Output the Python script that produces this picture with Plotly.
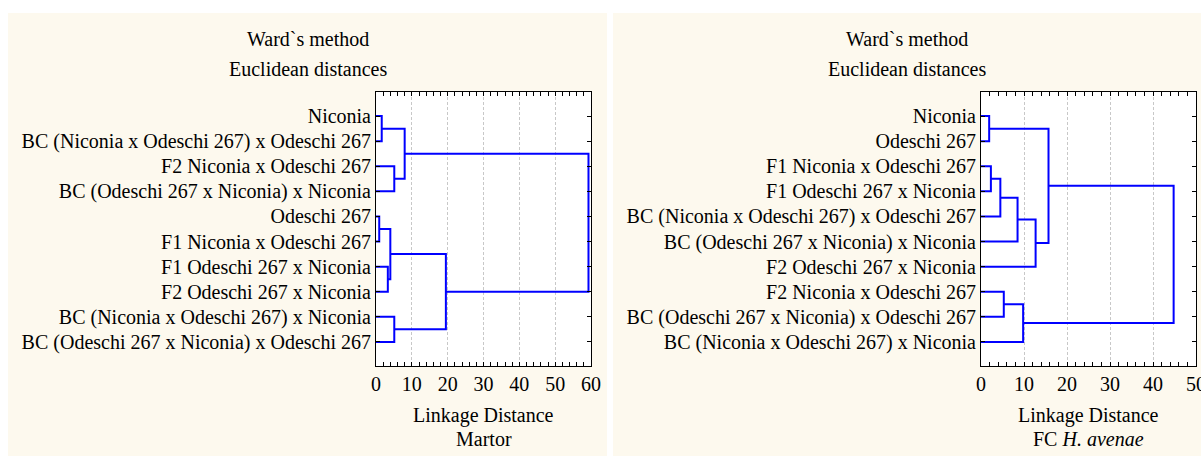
import plotly.graph_objects as go

# ---------------- data ----------------
leaves_martor = [
    "Niconia",
    "BC (Niconia x Odeschi 267) x Odeschi 267",
    "F2 Niconia x Odeschi 267",
    "BC (Odeschi 267 x Niconia) x Niconia",
    "Odeschi 267",
    "F1 Niconia x Odeschi 267",
    "F1 Odeschi 267 x Niconia",
    "F2 Odeschi 267 x Niconia",
    "BC (Niconia x Odeschi 267) x Niconia",
    "BC (Odeschi 267 x Niconia) x Odeschi 267",
]
# merges: node ids (0-9 leaves, 10+ new clusters in order)
merges_martor = [(0, 1), (2, 3), (10, 11), (4, 5), (6, 7), (13, 14), (8, 9), (15, 16), (12, 17)]
heights_martor = [1.6, 5.1, 8.0, 0.9, 3.3, 4.0, 5.1, 19.5, 59.3]

leaves_fc = [
    "Niconia",
    "Odeschi 267",
    "F1 Niconia x Odeschi 267",
    "F1 Odeschi 267 x Niconia",
    "BC (Niconia x Odeschi 267) x Odeschi 267",
    "BC (Odeschi 267 x Niconia) x Niconia",
    "F2 Odeschi 267 x Niconia",
    "F2 Niconia x Odeschi 267",
    "BC (Odeschi 267 x Niconia) x Odeschi 267",
    "BC (Niconia x Odeschi 267) x Niconia",
]
merges_fc = [(0, 1), (2, 3), (11, 4), (12, 5), (13, 6), (10, 14), (7, 8), (16, 9), (15, 17)]
heights_fc = [1.9, 2.3, 4.5, 8.5, 12.7, 15.7, 5.3, 9.8, 44.8]

x_range_martor = [0, 60]
x_range_fc = [0, 50]
x_ticks_martor = [0, 10, 20, 30, 40, 50, 60]
x_ticks_fc = [0, 10, 20, 30, 40, 50]

title_lines = ["Ward`s method", "Euclidean distances"]
xtitle = "Linkage Distance"
subtitle_martor = "Martor"
subtitle_fc = "FC <i>H. avenae</i>"

# ---------------- helpers ----------------
W, H = 1201, 456
FONT = "Liberation Serif"
BLUE = "#0000FF"
PANEL = "#FDF9EE"


def dendro_xy(n, merges, heights):
    pos = {i: (0.0, float(i + 1)) for i in range(n)}
    xs, ys = [], []
    for k, ((a, b), h) in enumerate(zip(merges, heights)):
        xa, ya = pos[a]
        xb, yb = pos[b]
        xs += [xa, h, h, xb, None]
        ys += [ya, ya, yb, yb, None]
        pos[n + k] = (h, (ya + yb) / 2)
    return xs, ys


def px_x(v):
    return v / W


def px_y(v):
    return 1 - v / H


fig = go.Figure()

xm, ym = dendro_xy(len(leaves_martor), merges_martor, heights_martor)
xf, yf = dendro_xy(len(leaves_fc), merges_fc, heights_fc)

fig.add_trace(go.Scatter(x=xm, y=ym, mode="lines", line=dict(color=BLUE, width=2),
                         hoverinfo="skip", showlegend=False, xaxis="x", yaxis="y"))
fig.add_trace(go.Scatter(x=xf, y=yf, mode="lines", line=dict(color=BLUE, width=2),
                         hoverinfo="skip", showlegend=False, xaxis="x2", yaxis="y2"))

# plot areas in pixels
L1, R1 = 376, 591
L2, R2 = 981, 1196
TOP, BOT = 92, 366

tickfont = dict(family=FONT, size=20, color="black")


def xaxis_cfg(dom, rng, tickvals, anchor):
    return dict(
        domain=[px_x(dom[0]), px_x(dom[1])], range=rng, anchor=anchor, automargin=False,
        tickvals=tickvals, ticks="inside", ticklen=4, tickcolor="black",
        showline=True, linecolor="black", linewidth=1, mirror="ticks",
        showgrid=True, gridcolor="#c8c8c8", griddash="3px,2px", gridwidth=1,
        zeroline=False, tickfont=tickfont, ticklabeloverflow="allow",
        minor=dict(dtick=2, ticks="inside", ticklen=4, tickcolor="black", showgrid=False),
    )


def yaxis_cfg(leaves, anchor):
    n = len(leaves)
    return dict(
        domain=[px_y(BOT), px_y(TOP)], range=[n + 0.96, 0.04], anchor=anchor, automargin=False,
        tickvals=list(range(1, n + 1)), ticktext=leaves,
        ticks="inside", ticklen=4, tickcolor="black",
        showline=True, linecolor="black", linewidth=1, mirror="ticks",
        showgrid=False, zeroline=False, tickfont=tickfont, ticklabeloverflow="allow",
    )


shapes = [
    dict(type="rect", xref="paper", yref="paper", x0=px_x(8), x1=px_x(607), y0=0, y1=px_y(13),
         fillcolor=PANEL, line=dict(width=0), layer="below"),
    dict(type="rect", xref="paper", yref="paper", x0=px_x(613), x1=1, y0=0, y1=px_y(13),
         fillcolor=PANEL, line=dict(width=0), layer="below"),
    dict(type="rect", xref="paper", yref="paper", x0=px_x(L1), x1=px_x(R1), y0=px_y(BOT), y1=px_y(TOP),
         fillcolor="white", line=dict(width=0), layer="below"),
    dict(type="rect", xref="paper", yref="paper", x0=px_x(L2), x1=px_x(R2), y0=px_y(BOT), y1=px_y(TOP),
         fillcolor="white", line=dict(width=0), layer="below"),
]

tfont = dict(family=FONT, size=20, color="black")
annotations = []
for cx in [(8 + 607) / 2, (613 + 1201) / 2]:
    annotations.append(dict(text=title_lines[0], x=px_x(cx), y=px_y(39), xref="paper", yref="paper",
                            showarrow=False, font=tfont, xanchor="center", yanchor="middle"))
    annotations.append(dict(text=title_lines[1], x=px_x(cx), y=px_y(69), xref="paper", yref="paper",
                            showarrow=False, font=tfont, xanchor="center", yanchor="middle"))
for cx, sub in [((L1 + R1) / 2, subtitle_martor), ((L2 + R2) / 2, subtitle_fc)]:
    annotations.append(dict(text=xtitle, x=px_x(cx), y=px_y(415), xref="paper", yref="paper",
                            showarrow=False, font=tfont, xanchor="center", yanchor="middle"))
    annotations.append(dict(text=sub, x=px_x(cx), y=px_y(439), xref="paper", yref="paper",
                            showarrow=False, font=tfont, xanchor="center", yanchor="middle"))

fig.update_layout(
    width=W, height=H, autosize=False,
    margin=dict(l=0, r=0, t=0, b=0),
    paper_bgcolor="white", plot_bgcolor="white",
    xaxis=xaxis_cfg((L1, R1), x_range_martor, x_ticks_martor, "y"),
    yaxis=yaxis_cfg(leaves_martor, "x"),
    xaxis2=xaxis_cfg((L2, R2), x_range_fc, x_ticks_fc, "y2"),
    yaxis2=yaxis_cfg(leaves_fc, "x2"),
    shapes=shapes, annotations=annotations,
    font=dict(family=FONT, color="black"),
    showlegend=False,
)

fig.write_html("out.html")
